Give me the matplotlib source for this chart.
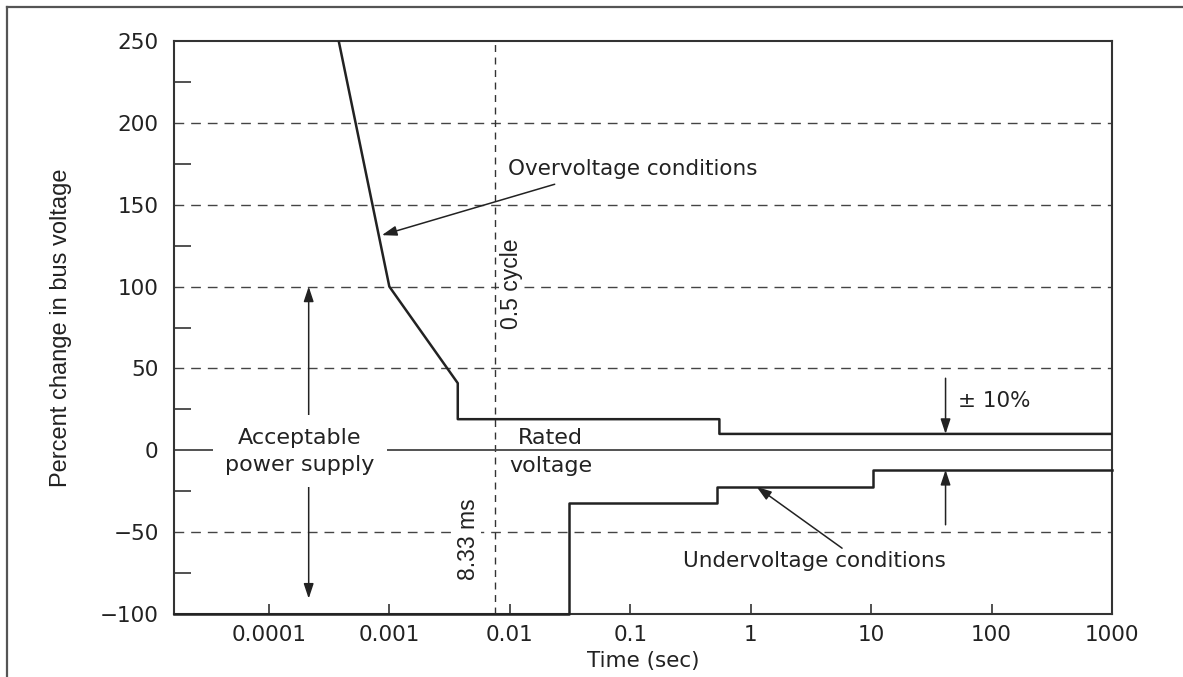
import matplotlib
matplotlib.use('Agg')
import matplotlib.pyplot as plt
from matplotlib.lines import Line2D
from matplotlib.ticker import FixedLocator, FixedFormatter, MultipleLocator, NullLocator

# curve data
over_t = [0.00038, 0.001, 0.0037, 0.0037, 0.55, 0.55, 1000]
over_v = [250, 100, 41, 19, 19, 10, 10]
under_t = [1.63e-5, 0.031, 0.031, 0.53, 0.53, 10.4, 10.4, 1000]
under_v = [-100, -100, -32, -32, -22.5, -22.5, -12, -12]

x_ticks = [1e-4, 1e-3, 1e-2, 1e-1, 1, 10, 100, 1000]
x_labels = ['0.0001', '0.001', '0.01', '0.1', '1', '10', '100', '1000']
y_ticks = [-100, -50, 0, 50, 100, 150, 200, 250]
y_labels = ['\u2212100', '\u221250', '0', '50', '100', '150', '200', '250']
grid_levels = [200, 150, 100, 50, -50]
half_cycle = 0.0075

plt.rcParams['font.family'] = ['DejaVu Sans']
ink = '#222222'
fs = 15.5

fig = plt.figure(figsize=(11.83, 6.77), dpi=100)
ax = fig.add_axes([174/1183, 63/677, (1112-174)/1183, (614-41)/677])

ax.set_xscale('log')
ax.set_xlim(1.63e-5, 1000)
ax.set_ylim(-100, 250)

for lv in grid_levels:
    ax.axhline(lv, color='#444444', lw=1, dashes=(7, 5), zorder=1)
ax.axvline(half_cycle, color='#333333', lw=1, dashes=(5, 4), zorder=1)
ax.axhline(0, color='#444444', lw=1.3, zorder=2)

ax.plot(over_t, over_v, color=ink, lw=1.8, zorder=3)
ax.plot(under_t, under_v, color=ink, lw=1.8, zorder=3, clip_on=False)

arr = dict(arrowstyle='-|>,head_length=0.45,head_width=0.15', color=ink, lw=1.1,
           mutation_scale=20, shrinkA=0, shrinkB=0)
# acceptable range arrows
ax.annotate('', xy=(0.000214, 100), xytext=(0.000214, 19), arrowprops=arr)
ax.annotate('', xy=(0.000214, -90.6), xytext=(0.000214, -20), arrowprops=arr)
# +/-10% arrows
ax.annotate('', xy=(41.5, 10), xytext=(41.5, 44), arrowprops=arr)
ax.annotate('', xy=(41.5, -12), xytext=(41.5, -45.5), arrowprops=arr)
# condition pointers
ax.annotate('', xy=(0.000867, 131.4), xytext=(0.0236, 162.5), arrowprops=arr)
ax.annotate('', xy=(1.12, -22.3), xytext=(5.74, -59.8), arrowprops=arr)

ax.text(0.0096, 171.8, 'Overvoltage conditions', fontsize=fs, color=ink, ha='left', va='center')
ax.text(0.274, -67.7, 'Undervoltage conditions', fontsize=fs, color=ink, ha='left', va='center')
ax.text(53, 30.3, '\u00b1 10%', fontsize=fs, color=ink, ha='left', va='center')
ax.text(0.000181, -0.5, 'Acceptable\npower supply', fontsize=16, color=ink, ha='center',
        va='center', multialignment='center', linespacing=1.45, zorder=4,
        bbox=dict(facecolor='white', edgecolor='none', pad=9))
ax.text(0.0219, -1, 'Rated\nvoltage', fontsize=16, color=ink, ha='center', va='center',
        multialignment='center', linespacing=1.45, zorder=4)
ax.text(0.01033, 102, '0.5 cycle', fontsize=16.5, family='Liberation Sans', color=ink,
        rotation=90, ha='center', va='center', zorder=4,
        bbox=dict(facecolor='white', edgecolor='none', pad=1))
ax.text(0.00451, -54, '8.33 ms', fontsize=16.5, family='Liberation Sans', color=ink,
        rotation=90, ha='center', va='center', zorder=4,
        bbox=dict(facecolor='white', edgecolor='none', pad=1))

ax.xaxis.set_major_locator(FixedLocator(x_ticks))
ax.xaxis.set_major_formatter(FixedFormatter(x_labels))
ax.xaxis.set_minor_locator(NullLocator())
ax.yaxis.set_major_locator(FixedLocator(y_ticks))
ax.yaxis.set_major_formatter(FixedFormatter(y_labels))
ax.yaxis.set_minor_locator(MultipleLocator(25))

ax.tick_params(axis='x', which='major', direction='in', length=7, width=1.2,
               color='#333333', labelsize=fs, labelcolor=ink, pad=8)
ax.tick_params(axis='y', which='major', length=0, labelsize=fs, labelcolor=ink, pad=11)
ax.tick_params(axis='y', which='minor', direction='in', length=12, width=1.2, color='#333333')

for sp in ax.spines.values():
    sp.set_color('#333333')
    sp.set_linewidth(1.5)

ax.set_xlabel('Time (sec)', fontsize=fs, color=ink, labelpad=4)
ax.set_ylabel('Percent change in bus voltage', fontsize=17, family='Liberation Sans',
              color=ink, labelpad=20)

# page frame
fig.add_artist(Line2D([7/1183, 7/1183], [0, 1 - 7/677], color='#555555', lw=1.6,
                      transform=fig.transFigure))
fig.add_artist(Line2D([7/1183, 1], [1 - 7/677, 1 - 7/677], color='#555555', lw=1.6,
                      transform=fig.transFigure))

fig.savefig('out.png', dpi=100)
